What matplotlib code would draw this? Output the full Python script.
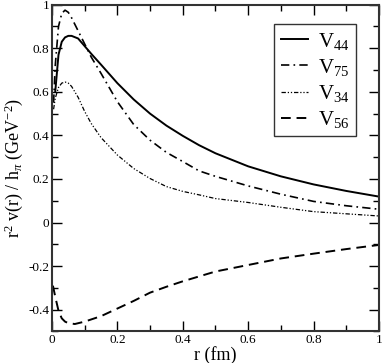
import matplotlib
matplotlib.use("Agg")
import matplotlib.pyplot as plt
from matplotlib.ticker import MultipleLocator, FuncFormatter

plt.rcParams["font.family"] = ["Liberation Serif", "DejaVu Serif"]
plt.rcParams["mathtext.fontset"] = "custom"
plt.rcParams["mathtext.rm"] = "Liberation Serif"
plt.rcParams["mathtext.it"] = "Liberation Serif:italic"

# values
r44 = [0.01, 0.02, 0.03, 0.04, 0.05, 0.06, 0.08, 0.1, 0.12, 0.15, 0.2, 0.25,
       0.3, 0.35, 0.4, 0.45, 0.5, 0.6, 0.7, 0.8, 0.9, 1.0]
v44 = [0.60, 0.77, 0.83, 0.85, 0.857, 0.857, 0.845, 0.81, 0.775, 0.725, 0.64,
       0.565, 0.50, 0.445, 0.398, 0.355, 0.318, 0.258, 0.212, 0.175, 0.145,
       0.119]

r75 = [0.005, 0.01, 0.02, 0.03, 0.04, 0.05, 0.06, 0.08, 0.1, 0.12, 0.15, 0.2,
       0.25, 0.3, 0.35, 0.4, 0.45, 0.5, 0.6, 0.7, 0.8, 0.9, 1.0]
v75 = [0.55, 0.72, 0.90, 0.96, 0.975, 0.965, 0.94, 0.88, 0.82, 0.76, 0.685,
       0.555, 0.45, 0.378, 0.322, 0.28, 0.237, 0.212, 0.168, 0.13, 0.097,
       0.077, 0.061]

r34 = [0.005, 0.01, 0.02, 0.03, 0.04, 0.05, 0.06, 0.08, 0.1, 0.12, 0.15, 0.2,
       0.25, 0.3, 0.35, 0.4, 0.45, 0.5, 0.6, 0.7, 0.8, 0.9, 1.0]
v34 = [0.52, 0.57, 0.62, 0.64, 0.645, 0.64, 0.625, 0.575, 0.51, 0.455, 0.39,
       0.31, 0.248, 0.202, 0.165, 0.143, 0.127, 0.11, 0.092, 0.07, 0.05, 0.04,
       0.03]

r56 = [0.003, 0.01, 0.02, 0.03, 0.04, 0.05, 0.07, 0.1, 0.15, 0.2, 0.25, 0.3,
       0.35, 0.4, 0.5, 0.6, 0.7, 0.8, 0.9, 1.0]
v56 = [-0.29, -0.34, -0.405, -0.44, -0.455, -0.462, -0.466, -0.455, -0.43,
       -0.395, -0.36, -0.322, -0.295, -0.27, -0.225, -0.195, -0.165, -0.143,
       -0.122, -0.103]

fig = plt.figure(figsize=(3.82, 3.63), dpi=100)
ax = fig.add_axes([0.136, 0.087, 0.856, 0.9])

ax.plot(r44, v44, color="black", lw=1.4, label=r"V$_{44}$")
ax.plot(r75, v75, color="black", lw=1.2, dashes=(5, 2.5, 1, 2.5), label=r"V$_{75}$")
ax.plot(r34, v34, color="black", lw=0.9, dashes=(3.5, 1.5, 1, 1.5, 1, 1.5), label=r"V$_{34}$")
ax.plot(r56, v56, color="black", lw=1.4, dashes=(5, 3), label=r"V$_{56}$")

ax.set_xlim(0, 1)
ax.set_ylim(-0.5, 1)
ax.xaxis.set_major_locator(MultipleLocator(0.2))
ax.xaxis.set_minor_locator(MultipleLocator(0.1))
ax.yaxis.set_major_locator(MultipleLocator(0.2))
ax.yaxis.set_minor_locator(MultipleLocator(0.1))
fmt = FuncFormatter(lambda v, p: "%g" % round(v, 2) if abs(v) > 1e-9 else "0")
ax.xaxis.set_major_formatter(fmt)
ax.yaxis.set_major_formatter(fmt)
ax.tick_params(which="both", direction="in", top=True, right=True, labelsize=9.5, pad=2)
ax.tick_params(which="major", length=7, width=1)
ax.tick_params(which="minor", length=4, width=1)
for s in ax.spines.values():
    s.set_linewidth(1.5)
    s.set_color("#333333")

ax.set_xlabel("r (fm)", fontsize=13, labelpad=0)
ax.set_ylabel(r"r$^2$ v(r) / h$_\pi$ (GeV$^{\mathrm{-2}}$)", fontsize=13, labelpad=2)

leg = ax.legend(loc="upper right", bbox_to_anchor=(0.93, 0.94), fontsize=15,
                fancybox=False, framealpha=1, edgecolor="#333333",
                handlelength=1.3, handletextpad=0.5, borderpad=0.3,
                labelspacing=0.25, borderaxespad=0)
leg.get_frame().set_linewidth(1)

fig.savefig("out.png", dpi=100)
